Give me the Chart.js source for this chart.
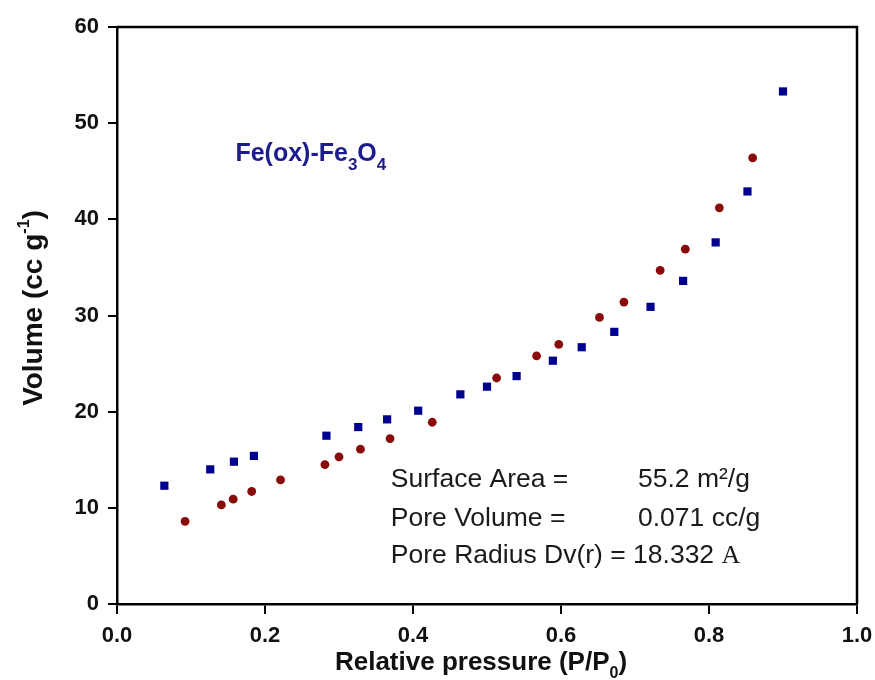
<!DOCTYPE html>
<html>
<head>
<meta charset="utf-8">
<script src="https://cdn.jsdelivr.net/npm/chart.js@4.4.0/dist/chart.umd.min.js"></script>
<style>
  html, body { margin: 0; padding: 0; background: #fff; }
  #wrap { width: 875px; height: 680px; position: relative; }
</style>
</head>
<body>
<div id="wrap"><canvas id="isoChart"></canvas></div>
<script>
// tick labels
const xTickLabels = ['0.0', '0.2', '0.4', '0.6', '0.8', '1.0'];
const yTickLabels = ['0', '10', '20', '30', '40', '50', '60'];

// blue squares
const blueP = [0.064, 0.126, 0.158, 0.185, 0.283, 0.326, 0.365, 0.407, 0.464, 0.500,
               0.540, 0.589, 0.628, 0.672, 0.721, 0.765, 0.809, 0.852, 0.900];
const blueV = [12.3, 14.0, 14.8, 15.4, 17.5, 18.4, 19.2, 20.1, 21.8, 22.6,
               23.7, 25.3, 26.7, 28.3, 30.9, 33.6, 37.6, 42.9, 53.3];

// red circles
const redP = [0.092, 0.141, 0.157, 0.182, 0.221, 0.281, 0.300, 0.329, 0.369, 0.426,
              0.513, 0.567, 0.597, 0.652, 0.685, 0.734, 0.768, 0.814, 0.859];
const redV = [8.6, 10.3, 10.9, 11.7, 12.9, 14.5, 15.3, 16.1, 17.2, 18.9,
              23.5, 25.8, 27.0, 29.8, 31.4, 34.7, 36.9, 41.2, 46.4];

const stats = [
    ['Surface Area =', '55.2 m\u00B2/g'],
    ['Pore Volume =', '0.071 cc/g'],
    ['Pore Radius Dv(r) = 18.332 ', 'A']
];

const FONT = 'Liberation Sans, Arial, sans-serif';

const toPts = (xs, ys) => xs.map((v, i) => ({ x: v, y: ys[i] }));

// draw text made of runs (sub/superscripts), left aligned
const drawRuns = (ctx, x, y, runs) => {
    let cx = x;
    runs.forEach(r => {
        ctx.font = r.font;
        ctx.fillText(r.t, cx, y + (r.dy || 0));
        cx += ctx.measureText(r.t).width;
    });
};
const runsWidth = (ctx, runs) => runs.reduce((w, r) => {
    ctx.font = r.font;
    return w + ctx.measureText(r.t).width;
}, 0);

const overlay = {
    id: 'overlay',
    afterDraw(chart) {
        const { ctx, chartArea: a, scales: { x, y } } = chart;
        ctx.save();

        // frame top + right
        ctx.strokeStyle = '#000';
        ctx.lineWidth = 2.5;
        ctx.beginPath();
        ctx.moveTo(a.left, a.top);
        ctx.lineTo(a.right, a.top);
        ctx.lineTo(a.right, a.bottom);
        ctx.stroke();

        ctx.textBaseline = 'alphabetic';
        ctx.textAlign = 'left';
        ctx.fillStyle = '#111';

        // x title
        const xt = [
            { t: 'Relative pressure (P/P', font: 'bold 26px ' + FONT },
            { t: '0', font: 'bold 16px ' + FONT, dy: 8 },
            { t: ')', font: 'bold 26px ' + FONT }
        ];
        drawRuns(ctx, 481 - runsWidth(ctx, xt) / 2, 670, xt);

        // y title
        const yt = [
            { t: 'Volume (cc g', font: 'bold 28px ' + FONT },
            { t: '-1', font: 'bold 16px ' + FONT, dy: -13 },
            { t: ')', font: 'bold 28px ' + FONT }
        ];
        ctx.save();
        ctx.translate(42, 308);
        ctx.rotate(-Math.PI / 2);
        drawRuns(ctx, -runsWidth(ctx, yt) / 2, 0, yt);
        ctx.restore();

        // sample label
        ctx.fillStyle = '#1c1c8a';
        drawRuns(ctx, x.getPixelForValue(0.16), y.getPixelForValue(46.1), [
            { t: 'Fe(ox)-Fe', font: 'bold 25px ' + FONT },
            { t: '3', font: 'bold 17px ' + FONT, dy: 9 },
            { t: 'O', font: 'bold 25px ' + FONT },
            { t: '4', font: 'bold 17px ' + FONT, dy: 9 }
        ]);

        // stats block
        ctx.fillStyle = '#1a1a1a';
        const baseY = [12.2, 8.1, 4.3];
        const left = x.getPixelForValue(0.37);
        const col = x.getPixelForValue(0.704);
        stats.forEach((row, i) => {
            const by = y.getPixelForValue(baseY[i]);
            ctx.font = '26.5px ' + FONT;
            ctx.fillText(row[0], left, by);
            if (i < 2) {
                ctx.fillText(row[1], col, by);
            } else {
                const w = ctx.measureText(row[0]).width;
                ctx.font = '26px Liberation Serif, Times New Roman, serif';
                ctx.fillText(row[1], left + w, by);
            }
        });

        ctx.restore();
    }
};

const axisCommon = {
    grid: { drawOnChartArea: false, drawTicks: true, color: '#000', lineWidth: 2 },
    border: { display: true, color: '#000', width: 2.5 }
};

new Chart(document.getElementById('isoChart'), {
    type: 'scatter',
    data: {
        datasets: [{
            label: 'squares',
            data: toPts(blueP, blueV),
            pointStyle: 'rect',
            pointRadius: 5.8,
            backgroundColor: '#000090',
            borderColor: '#000090',
            borderWidth: 0
        }, {
            label: 'circles',
            data: toPts(redP, redV),
            pointStyle: 'circle',
            pointRadius: 4.4,
            backgroundColor: '#8a0a0a',
            borderColor: '#8a0a0a',
            borderWidth: 0
        }]
    },
    options: {
        responsive: true,
        maintainAspectRatio: false,
        animation: false,
        layout: { padding: { top: 27, right: 18, left: 0, bottom: 0 } },
        plugins: { legend: { display: false }, tooltip: { enabled: false } },
        scales: {
            x: {
                ...axisCommon,
                type: 'linear',
                min: 0, max: 1,
                grid: { ...axisCommon.grid, tickLength: 10 },
                afterBuildTicks: s => { s.ticks = xTickLabels.map(v => ({ value: parseFloat(v) })); },
                afterFit: s => { s.height = 76; s.paddingLeft = 0; s.paddingRight = 0; },
                ticks: {
                    color: '#111', padding: 9, maxRotation: 0,
                    font: { family: FONT, size: 22, weight: 'bold' },
                    callback: (v, i) => xTickLabels[i]
                }
            },
            y: {
                ...axisCommon,
                min: 0, max: 60,
                grid: { ...axisCommon.grid, tickLength: 9 },
                afterBuildTicks: s => { s.ticks = yTickLabels.map(v => ({ value: parseFloat(v) })); },
                afterFit: s => { s.width = 117; s.paddingTop = 0; s.paddingBottom = 0; },
                ticks: {
                    color: '#111', padding: 9,
                    font: { family: FONT, size: 22, weight: 'bold' },
                    callback: (v, i) => yTickLabels[i]
                }
            }
        }
    },
    plugins: [overlay]
});
</script>
</body>
</html>
